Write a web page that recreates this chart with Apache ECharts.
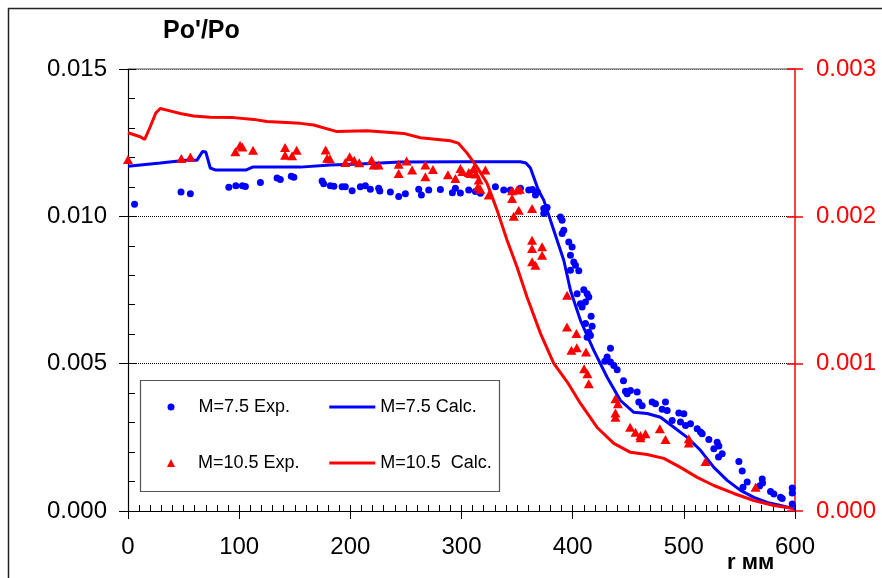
<!DOCTYPE html>
<html>
<head>
<meta charset="utf-8">
<script src="https://cdn.jsdelivr.net/npm/echarts@6/dist/echarts.min.js"></script>
<style>html,body{margin:0;padding:0;background:#fff}#c{width:882px;height:578px}</style>
</head>
<body>
<div id="c"></div>
<script>
// Axis settings
var xTicks = [0, 100, 200, 300, 400, 500, 600];
var leftTicks = [0.000, 0.005, 0.010, 0.015];
var rightTicks = [0.000, 0.001, 0.002, 0.003];
var yName = "Po'/Po";
var xName = "r мм";
var names = ["M=7.5 Exp.", "M=7.5 Calc.", "M=10.5 Exp.", "M=10.5  Calc."];

// M=7.5 calculation (left axis)
var blueCalc = [[0,0.0117],[29,0.01181],[52,0.0119],[62,0.0119],[67,0.0122],[70,0.01218],[74,0.01164],[79,0.01157],[106,0.01157],[112,0.01167],[155,0.01167],[182,0.01174],[209,0.01178],[245,0.01184],[300,0.01185],[353,0.01185],[358,0.01181],[362,0.01164],[365,0.01133],[369,0.0109],[374,0.01055],[383,0.00953],[392,0.00851],[398,0.00749],[407,0.00647],[419,0.00545],[431,0.00454],[443,0.00375],[455,0.00335],[467,0.00331],[479,0.00318],[491,0.00284],[503,0.0025],[515,0.00206],[527,0.00148],[539,0.00104],[551,0.0007],[563,0.00046],[575,0.00029],[587,0.00019],[599,0.00008],[600,0.00006]];

// M=10.5 calculation (right axis)
var redCalc = [[0,0.002567],[11,0.00254],[15,0.002522],[20,0.002608],[25,0.002701],[29,0.002732],[35,0.002721],[47,0.002698],[59,0.002681],[74,0.002672],[95,0.00267],[113,0.002658],[125,0.002643],[155,0.002631],[167,0.00262],[188,0.002575],[215,0.002581],[248,0.002563],[263,0.002533],[290,0.002513],[297,0.002497],[305,0.002429],[314,0.002334],[323,0.002225],[332,0.002042],[341,0.001838],[350,0.001655],[359,0.001451],[371,0.001206],[383,0.001002],[396,0.000866],[407,0.00073],[422,0.000567],[437,0.000459],[452,0.000398],[467,0.000384],[482,0.000357],[497,0.000296],[512,0.000228],[527,0.000173],[545,0.000119],[563,0.0000714],[581,0.0000374],[599,0.000017]];

// M=7.5 experiment (left axis)
var blueExp = [[5.9,0.01041],[47.7,0.01083],[56.1,0.01077],[90.7,0.01099],[97.0,0.01104],[102.9,0.01104],[105.6,0.01101],[119.1,0.01115],[134.1,0.0113],[137.0,0.01125],[146.9,0.01136],[149.2,0.01133],[174.6,0.0112],[176.0,0.01111],[182.0,0.01104],[185.2,0.01102],[192.6,0.011],[195.5,0.011],[201.6,0.01087],[209.0,0.011],[213.5,0.01104],[218.0,0.01092],[225.5,0.01095],[226.5,0.01086],[236.0,0.01083],[243.5,0.01067],[249.5,0.01077],[261.5,0.01092],[263.9,0.01072],[270.5,0.01089],[281.0,0.01091],[291.8,0.0108],[294.5,0.01095],[299.0,0.01079],[306.5,0.01089],[312.5,0.01084],[317.0,0.01078],[330.5,0.011],[338.0,0.01089],[344.0,0.01089],[353.0,0.01095],[360.5,0.01089],[363.8,0.01091],[366.5,0.01072],[368.3,0.01083],[374.0,0.01027],[377.0,0.0103],[374.0,0.0101],[389.0,0.00998],[390.5,0.00987],[392.0,0.00953],[390.5,0.00942],[396.5,0.00913],[399.5,0.00896],[398.0,0.00868],[401.0,0.00845],[402.5,0.00834],[398.0,0.00817],[405.5,0.00815],[410.0,0.00751],[413.0,0.00737],[404.0,0.00737],[414.5,0.00726],[407.0,0.00703],[411.5,0.00709],[408.5,0.00692],[416.6,0.00661],[411.5,0.00636],[417.5,0.00627],[414.5,0.00607],[416.0,0.00596],[413.0,0.0059],[434.0,0.00552],[431.0,0.00523],[428.9,0.00508],[434.0,0.00506],[437.0,0.00494],[440.0,0.00479],[445.7,0.00442],[447.5,0.00406],[452.0,0.00409],[449.0,0.00398],[458.0,0.00404],[459.5,0.0037],[462.5,0.00357],[471.5,0.0037],[474.5,0.00364],[483.5,0.0037],[485.0,0.00341],[480.5,0.00345],[489.5,0.00307],[495.5,0.00333],[500.0,0.0033],[497.0,0.00302],[501.5,0.0029],[506.0,0.00296],[512.0,0.00279],[515.0,0.00268],[516.5,0.00262],[522.5,0.00243],[530.0,0.00233],[531.5,0.00221],[527.0,0.00211],[534.5,0.00194],[531.2,0.00183],[549.5,0.00168],[552.5,0.00136],[557.0,0.00098],[553.2,0.00081],[570.5,0.00109],[570.8,0.00095],[568.1,0.00085],[578.0,0.00066],[581.0,0.00058],[587.0,0.00047],[588.5,0.00042],[597.5,0.00078],[597.5,0.00061],[597.5,0.00024]];

// M=10.5 experiment (right axis)
var redExp = [[0,0.002385],[48.0,0.002393],[56.1,0.002403],[96.6,0.002438],[100.8,0.002482],[102.9,0.00247],[112.5,0.002448],[141.3,0.002467],[141.3,0.002414],[147.6,0.002411],[151.7,0.002448],[177.8,0.00245],[179.1,0.002395],[181.6,0.00239],[195.5,0.002365],[199.4,0.002405],[203.5,0.00238],[208.0,0.002363],[219.1,0.002382],[221.0,0.002348],[225.5,0.002348],[243.5,0.002354],[243.5,0.002291],[250.6,0.002375],[255.6,0.002314],[267.5,0.002348],[267.5,0.002268],[274.3,0.002318],[287.8,0.002282],[294.5,0.002257],[299.0,0.002325],[300.8,0.002304],[306.5,0.002297],[308.0,0.002291],[311.0,0.002325],[313.0,0.002287],[315.5,0.002246],[314.8,0.0022],[317.0,0.002183],[321.5,0.002314],[324.5,0.002144],[345.5,0.002173],[350.0,0.002178],[352.4,0.002183],[345.5,0.002121],[351.5,0.002042],[347.0,0.002001],[363.5,0.002053],[363.5,0.001838],[363.5,0.001782],[372.5,0.001793],[372.5,0.001736],[363.5,0.001691],[366.5,0.001668],[395.0,0.001464],[394.9,0.001249],[403.4,0.001204],[403.7,0.001108],[398.9,0.001091],[412.0,0.001079],[410.3,0.000966],[413.3,0.000932],[414.5,0.000864],[438.5,0.000762],[440.7,0.000728],[438.5,0.000666],[438.5,0.000637],[451.7,0.000569],[456.5,0.000535],[461.0,0.000513],[461.0,0.000497],[465.5,0.000525],[478.4,0.000559],[483.5,0.000486],[504.5,0.000491],[504.5,0.000462],[519.5,0.000336],[564.5,0.000162]];

var FONT = 'Liberation Sans, Arial, sans-serif';
var chart = echarts.init(document.getElementById('c'), null, {renderer: 'canvas'});

function lim(t){ return {min: t[0], max: t[t.length-1], interval: t[1]-t[0]}; }
var xl = lim(xTicks), ll = lim(leftTicks), rl = lim(rightTicks);

var box = {left: 128, right: 87, top: 69, bottom: 67};
function fmt(v){ return v.toFixed(3); }
var legText = {fontSize:18, color:'#000', fontFamily:FONT};
var legTextPad = {fontSize:18, color:'#000', fontFamily:FONT, padding:[0,0,0,19]};

var option = {
  backgroundColor: '#fff',
  animation: false,
  grid: [
    {left: box.left, right: box.right, top: box.top, bottom: box.bottom},
    {left: box.left, right: box.right, top: box.top, bottom: box.bottom}
  ],
  xAxis: [
    {gridIndex:0, type:'value', position:'bottom', min:xl.min, max:xl.max, interval:xl.interval,
     axisLine:{onZero:false, lineStyle:{color:'#000', width:1.2}},
     axisTick:{show:true, inside:true, length:6, lineStyle:{color:'#000'}},
     minorTick:{show:true, splitNumber:10, length:6, lineStyle:{color:'#000'}},
     splitLine:{show:false},
     axisLabel:{margin:24, fontSize:24, color:'#000', fontFamily:FONT}},
    {gridIndex:0, type:'value', position:'top', min:xl.min, max:xl.max, interval:xl.interval,
     axisLine:{show:true, onZero:false, lineStyle:{color:'#888', width:1.5}}, axisTick:{show:false},
     axisLabel:{show:false}, splitLine:{show:false}},
    {gridIndex:1, type:'value', position:'bottom', min:xl.min, max:xl.max, interval:xl.interval,
     axisLine:{show:false, onZero:false}, axisTick:{show:true, inside:false, length:8, lineStyle:{color:'#000'}},
     axisLabel:{show:false}, splitLine:{show:false}}
  ],
  yAxis: [
    {gridIndex:0, type:'value', position:'left', min:ll.min, max:ll.max, interval:ll.interval,
     axisLine:{show:true, onZero:false, lineStyle:{color:'#000', width:1.2}},
     axisTick:{show:true, inside:true, length:8, lineStyle:{color:'#000'}},
     minorTick:{show:true, splitNumber:5, length:7, lineStyle:{color:'#000'}},
     splitLine:{show:true, lineStyle:{color:'#000', type:[1,1], width:1}},
     axisLabel:{margin:21, fontSize:24, color:'#000', fontFamily:FONT, formatter:fmt}},
    {gridIndex:0, type:'value', position:'right', min:rl.min, max:rl.max, interval:rl.interval,
     axisLine:{show:true, onZero:false, lineStyle:{color:'#f00', width:1.5}},
     axisTick:{show:true, inside:false, length:8, lineStyle:{color:'#f00', width:1.5}},
     splitLine:{show:false},
     axisLabel:{margin:21, fontSize:24, color:'#f00', fontFamily:FONT, formatter:fmt}},
    {gridIndex:1, type:'value', position:'left', min:ll.min, max:ll.max, interval:ll.interval,
     axisLine:{show:false, onZero:false}, axisTick:{show:true, inside:false, length:9, lineStyle:{color:'#000'}},
     axisLabel:{show:false}, splitLine:{show:false}},
    {gridIndex:1, type:'value', position:'right', min:rl.min, max:rl.max, interval:rl.interval,
     axisLine:{show:false, onZero:false}, axisTick:{show:true, inside:true, length:8, lineStyle:{color:'#f00', width:1.5}},
     axisLabel:{show:false}, splitLine:{show:false}}
  ],
  legend: [
    {data:[{name:names[0], icon:'circle'}], left:167.5, top:398, padding:0, z:20, itemWidth:7, itemHeight:7, textStyle:legTextPad, selectedMode:false},
    {data:[{name:names[1], icon:'rect'}], left:329.3, top:398, padding:0, z:20, itemWidth:46, itemHeight:3, textStyle:legText, selectedMode:false},
    {data:[{name:names[2], icon:'triangle'}], left:167, top:454, padding:0, z:20, itemWidth:8, itemHeight:8, textStyle:{fontSize:18, color:'#000', fontFamily:FONT, padding:[0,0,0,18]}, selectedMode:false},
    {data:[{name:names[3], icon:'rect'}], left:329.3, top:454, padding:0, z:20, itemWidth:46, itemHeight:3, textStyle:legText, selectedMode:false}
  ],
  graphic: [
    {type:'rect', shape:{x:8.5, y:8.5, width:900, height:600}, style:{fill:'none', stroke:'#222', lineWidth:1.5}, silent:true, z:-1},
    {type:'rect', shape:{x:140.5, y:380.5, width:359, height:111}, style:{fill:'#fff', stroke:'#555', lineWidth:1.2}, silent:true, z:3},
    {type:'text', x:163, y:31, style:{text:yName, font:'bold 25px ' + FONT, fill:'#000', textVerticalAlign:'middle'}, silent:true},
    {type:'text', x:727, y:563, style:{text:xName, font:'bold 22px ' + FONT, fill:'#000', textVerticalAlign:'middle'}, silent:true}
  ],
  series: [
    {name:names[1], type:'line', xAxisIndex:0, yAxisIndex:0, data:blueCalc, showSymbol:false, symbol:'none',
     lineStyle:{color:'#0000ff', width:3}, itemStyle:{color:'#0000ff'}, z:2},
    {name:names[3], type:'line', xAxisIndex:0, yAxisIndex:1, data:redCalc, showSymbol:false, symbol:'none',
     lineStyle:{color:'#ff0000', width:3}, itemStyle:{color:'#ff0000'}, z:2},
    {name:names[0], type:'scatter', xAxisIndex:0, yAxisIndex:0, data:blueExp, symbol:'circle', symbolSize:7,
     itemStyle:{color:'#0000ff', opacity:1}, z:3},
    {name:names[2], type:'scatter', xAxisIndex:0, yAxisIndex:1, data:redExp, symbol:'triangle', symbolSize:[10,9],
     itemStyle:{color:'#ff0000', opacity:1}, z:3}
  ]
};
chart.setOption(option);
</script>
</body>
</html>
